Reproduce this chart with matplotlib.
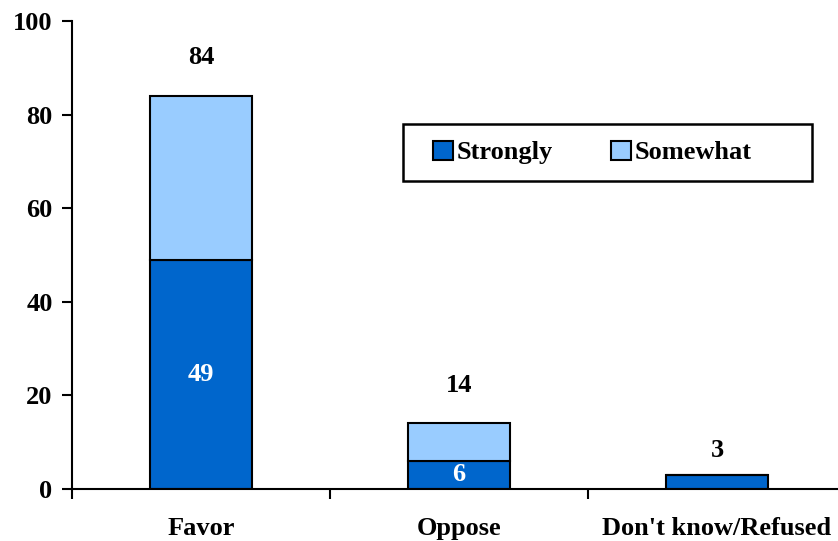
import matplotlib.pyplot as plt
from matplotlib.patches import Rectangle
import numpy as np

categories = ["Favor", "Oppose", "Don't know/Refused"]
strongly = [49, 6, 3]
somewhat = [35, 8, 0]
totals = [84, 14, 3]
inner_labels = ["49", "6", ""]

plt.rcParams['font.family'] = ['Liberation Serif', 'DejaVu Serif']
plt.rcParams['font.weight'] = 'bold'

dark = '#0066CC'
light = '#99CCFF'
fs = 19
W, H = 838, 541

fig = plt.figure(figsize=(W / 100, H / 100), dpi=100)
ax = fig.add_axes([72/W, 52/H, 774/W, 468/H])

x = np.arange(len(categories))
w = 0.395
ax.bar(x, strongly, width=w, color=dark, edgecolor='black', linewidth=1.5, label='Strongly')
ax.bar(x, somewhat, width=w, bottom=strongly, color=light, edgecolor='black', linewidth=1.5, label='Somewhat')

# total labels above the bars
offsets = [8.3, 8.2, 5.2]
for i in range(len(x)):
    ax.text(x[i], totals[i] + offsets[i], str(totals[i]), ha='center', va='center',
            fontsize=fs, fontweight='bold')
    if inner_labels[i]:
        ax.text(x[i], strongly[i] / 2, inner_labels[i], ha='center', va='center', fontsize=fs,
                fontweight='bold', color='white')

ax.set_xlim(-0.5, 2.5)
ax.set_ylim(0, 100)
ax.set_yticks(range(0, 101, 20))
ax.set_xticks(x)
ax.set_xticklabels(categories)
ax.set_xticks([-0.5, 0.5, 1.5, 2.5], minor=True)
ax.tick_params(axis='x', which='major', length=0, pad=20, labelsize=fs)
ax.tick_params(axis='x', which='minor', length=7, width=1.5, direction='out')
ax.tick_params(axis='y', length=7, width=1.5, direction='out', pad=7, labelsize=fs)

for side in ['top', 'right']:
    ax.spines[side].set_visible(False)
for side in ['left', 'bottom']:
    ax.spines[side].set_linewidth(1.5)

# legend without frame, box drawn separately (ref box has a wide right margin)
leg = fig.legend(*ax.get_legend_handles_labels(), loc='center left',
                 bbox_to_anchor=(433 / W, 1 - 152.5 / H), ncol=2,
                 fontsize=fs, frameon=False, borderpad=0, borderaxespad=0,
                 columnspacing=2.2, handlelength=0.75, handleheight=0.75,
                 handletextpad=0.15)
fig.add_artist(Rectangle((403 / W, 1 - 181 / H), (812 - 403) / W, (181 - 124) / H,
                         transform=fig.transFigure, fill=False, edgecolor='black',
                         linewidth=1.8))

fig.savefig('out.png', dpi=100)
